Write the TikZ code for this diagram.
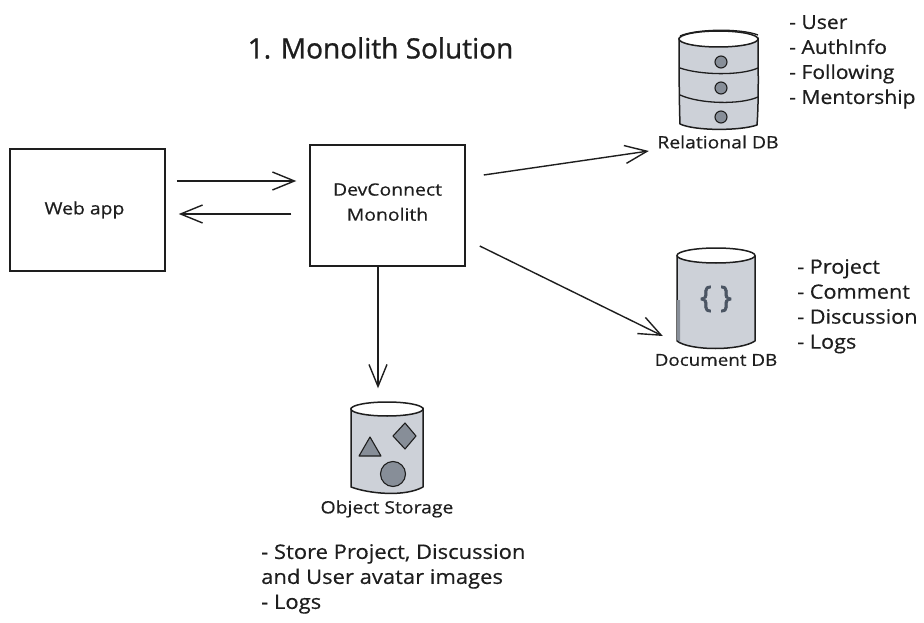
\documentclass[tikz,border=0pt]{standalone}
\usepackage{fontspec}
\setmainfont[FakeBold=0.5]{Open Sans}
\newfontfamily\titlefont[FakeBold=1]{Open Sans}
\newfontfamily\widefont[FakeStretch=1.1,FakeBold=0.5]{Open Sans}
\newfontfamily\labelfont[FakeStretch=1.14,FakeBold=0.5]{Open Sans}
\newfontfamily\bracefont[FakeBold=2.5]{Open Sans}
\usetikzlibrary{arrows.meta}
\definecolor{ink}{HTML}{1E1E1E}
\definecolor{cylfill}{HTML}{CDD1D8}
\definecolor{shapefill}{HTML}{878E98}
\definecolor{darkicon}{HTML}{4B5563}
\tikzset{
  boxnode/.style={draw=ink,line width=1.5pt,minimum width=155pt,minimum height=122pt,inner sep=0pt,align=center,font=\labelfont\fontsize{17}{25}\selectfont,text=ink},
  arr/.style={draw=ink,line width=1.4pt,-{Straight Barb[length=22pt,width=18pt,line width=1.4pt]}},
  cyl/.style={draw=ink,line width=1.5pt,fill=cylfill,line join=round},
  cyltop/.style={draw=ink,line width=1.5pt,fill=white},
  band/.style={draw=ink,line width=1.3pt},
  iconshape/.style={draw=ink,line width=1.1pt,fill=shapefill,line join=round},
  listtext/.style={anchor=north west,inner sep=0pt,align=left,text=ink,font=\widefont\fontsize{20}{25}\selectfont},
  cyllabel/.style={inner sep=0pt,text=ink,font=\labelfont\fontsize{17}{18}\selectfont},
  titletext/.style={inner sep=0pt,text=ink,font=\titlefont\fontsize{28}{30}\selectfont},
  anchorbox/.style={inner sep=0pt,minimum width=80pt,minimum height=95pt}
}
\begin{document}
\begin{tikzpicture}[x=1pt,y=-1pt]
\useasboundingbox[fill=white] (0,0) rectangle (924,623);
\node[titletext] (title) at (380.5,48) {1. Monolith Solution};
\node[boxnode] (web) at (87.5,210) {Web app\hspace*{6pt}};
\node[boxnode,minimum height=121pt] (mono) at (387.5,205.5) {\raisebox{7pt}{\shortstack{DevConnect\\[9pt]Monolith}}};
% invisible anchors of the three stores
\node[anchorbox] (rel) at (718,80) {};
\node[anchorbox,minimum height=100pt] (doc) at (716,298) {};
\node[anchorbox,minimum height=93pt] (obj) at (387,449) {};
% relational DB
\path[cyl] (679,38) .. controls (679,41) and (679,100) .. (680,124) .. controls (695,131) and (740,131) .. (757,125) .. controls (759,100) and (758,60) .. (758,38) -- cycle;
\draw[cyltop] (718.5,39) ellipse [x radius=39.5,y radius=8];
\draw[band] (680,36) .. controls (695,29) and (740,28) .. (758,35);
\draw[band] (680,68) .. controls (700,75) and (740,76) .. (758,68);
\draw[band] (680,95) .. controls (700,104) and (740,105) .. (758,97);
\foreach \py in {62,88,117}{\draw[iconshape] (721,\py) circle [radius=6];}
\node[cyllabel] (rellabel) at (718,142) {Relational DB};
% document DB
\path[cyl] (677,256) -- (677,341) .. controls (690,351) and (740,351) .. (755,341) -- (755,256) -- cycle;
\fill[shapefill] (677,300) -- (680,300) -- (680,342) -- (677,340) -- cycle;
\draw[cyltop] (716,255.5) ellipse [x radius=39,y radius=7.5];
\node[inner sep=0pt,text=darkicon,font=\bracefont\fontsize{30}{32}\selectfont] (braces) at (716,299) {\{\hspace{9pt}\}};
\node[cyllabel,font=\labelfont\fontsize{16.5}{18}\selectfont] (doclabel) at (716,360) {Document DB};
% object storage
\path[cyl] (351,408) -- (351,487) .. controls (370,494) and (405,497) .. (423,487) -- (423,408) -- cycle;
\draw[cyltop] (387,409) ellipse [x radius=36,y radius=7];
\draw[iconshape] (370,437) -- (381,456) -- (359,456) -- cycle;
\draw[iconshape] (405,423) -- (416,436) -- (405,449) -- (393,436) -- cycle;
\draw[iconshape] (393,474) circle [radius=12.5];
\node[cyllabel] (objlabel) at (387,509) {Object Storage};
% connectors
\draw[arr] ([shift={(11,-29)}]web.east) -- ([shift={(-13,-24.5)}]mono.west);
\draw[arr] ([shift={(-18,8.5)}]mono.west) -- ([shift={(13,4)}]web.east);
\draw[arr] ([shift={(18,-30.5)}]mono.east) -- ([shift={(-29,71)}]rel.west);
\draw[arr] ([shift={(14,40.5)}]mono.east) -- ([shift={(-13,38)}]doc.west);
\draw[arr] ([xshift=-9.5pt]mono.south) -- ([shift={(-9,-14)}]obj.north);
% lists
\node[listtext,font=\widefont\fontsize{19.2}{25}\selectfont] (list1) at (789,15) {- User\\- AuthInfo\\- Following\\- Mentorship};
\node[listtext,font=\widefont\fontsize{19.7}{25}\selectfont] (list2) at (797,259) {- Project\\- Comment\\- Discussion\\- Logs};
\node[listtext] (list3) at (261,544) {- Store Project, Discussion\\and User avatar images\\- Logs};
\end{tikzpicture}
\end{document}
